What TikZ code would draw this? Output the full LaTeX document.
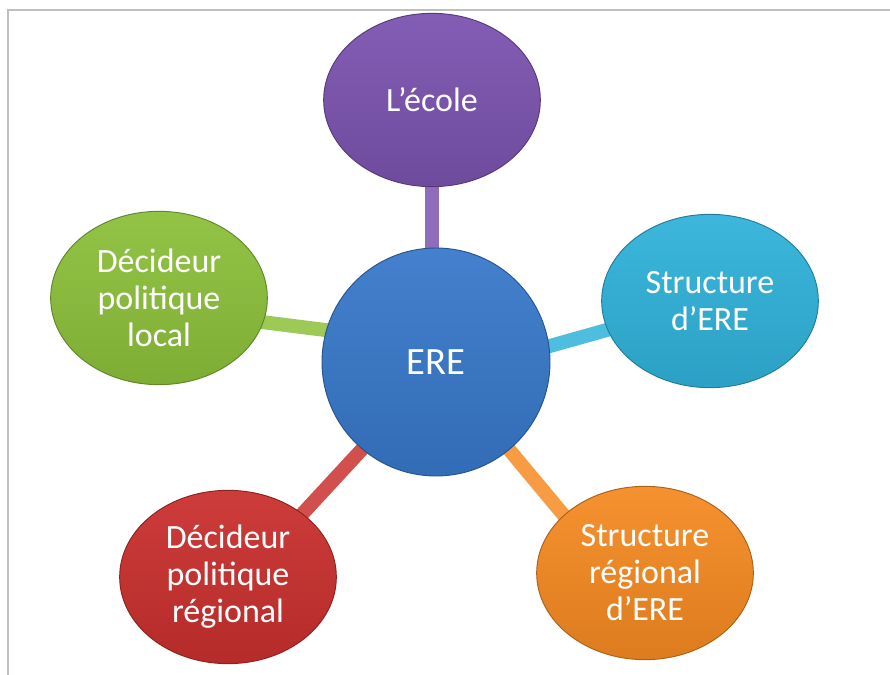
\documentclass[tikz,border=0pt]{standalone}
\usepackage{fontspec}
\setmainfont{Carlito}
\usetikzlibrary{shapes.geometric,backgrounds}

\definecolor{erebleu}{HTML}{3878CA}
\definecolor{ecoleviolet}{HTML}{7B53AF}
\definecolor{structcyan}{HTML}{30B2DA}
\definecolor{localvert}{HTML}{8CC03A}
\definecolor{regrouge}{HTML}{C9302E}
\definecolor{regorange}{HTML}{F58A22}

\begin{document}
\begin{tikzpicture}[x=0.03cm, y=-0.03cm,
    bulle/.style={ellipse, draw=#1!70!black, line width=0.8pt,
        top color=#1!94!white, bottom color=#1!90!black,
        text=white, align=center, inner sep=0pt,
        minimum width=6.5cm, minimum height=5.2cm,
        font=\fontsize{29}{31.6}\selectfont},
    lien/.style={line width=0.42cm, #1!85!white}]
    \useasboundingbox (0,0) rectangle (890,675);
    % cadre gris
    \draw[black!25, line width=1.7pt] (890,10) -- (8,10) -- (8,675);

    \node[circle, draw=erebleu!70!black, line width=0.8pt, top color=erebleu!94!white, bottom color=erebleu!90!black,
          text=white, minimum size=6.84cm, font=\fontsize{33}{38}\selectfont] (ere) at (436,362) {ERE};
    \node[bulle=ecoleviolet] (ecole) at (432,100) {L’école};
    \node[bulle=structcyan] (structere) at (710,301) {Structure\\d’ERE};
    \node[bulle=localvert] (declocal) at (159,298) {Décideur\\politique\\local};
    \node[bulle=regrouge] (decregional) at (228,577) {Décideur\\politique\\régional};
    \node[bulle=regorange] (structreg) at (645,573) {Structure\\régional\\d’ERE};

    \begin{scope}[on background layer]
        \draw[lien=ecoleviolet] ([xshift=-0.12cm]ere.center) -- (ecole.center);
        \draw[lien=structcyan] ([yshift=-0.48cm]ere.center) -- (structere.center);
        \draw[lien=localvert] ([yshift=0.54cm]ere.center) -- ([yshift=-0.33cm]declocal.center);
        \draw[lien=regrouge] ([xshift=0.2cm]ere.center) -- ([xshift=0.48cm]decregional.center);
        \draw[lien=regorange] (ere.center) -- ([xshift=-0.99cm]structreg.center);
    \end{scope}
\end{tikzpicture}
\end{document}
